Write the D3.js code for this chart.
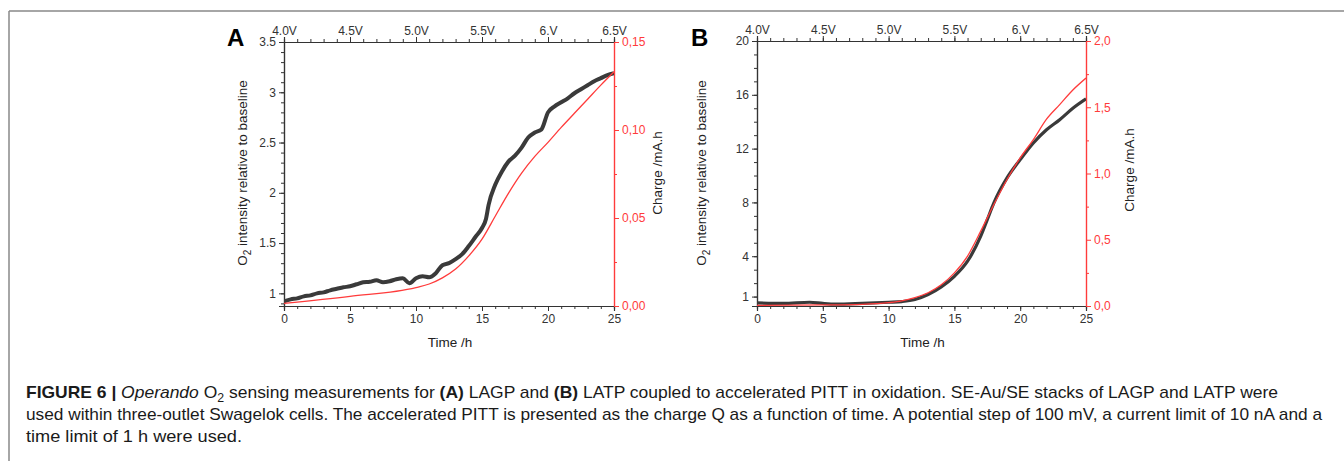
<!DOCTYPE html>
<html>
<head>
<meta charset="utf-8">
<script src="https://cdn.jsdelivr.net/npm/d3@7"></script>
<style>
  body { margin: 0; background: #fff; }
  svg { display: block; font-family: "Liberation Sans", Arial, sans-serif; }
</style>
</head>
<body>
<div id="canvas"></div>
<script>
// ---- data ----
const hourTicks = [0, 5, 10, 15, 20, 25];
const voltLabels = ['4.0V', '4.5V', '5.0V', '5.5V', '6.V', '6.5V'];

// panel A (LAGP)
const o2TimeA = [0, 0.5, 1, 1.5, 2, 2.5, 3, 3.5, 4, 4.5, 5, 5.5, 6, 6.5, 7, 7.5, 8, 8.5, 9, 9.5, 10, 10.5, 11, 11.5, 12, 12.5, 13, 13.5, 14, 14.5, 15, 15.3, 15.5, 16, 16.5, 17, 17.5, 18, 18.5, 19, 19.5, 20, 20.5, 21, 21.5, 22, 22.5, 23, 23.5, 24, 24.5, 25];
const o2A = [0.92, 0.94, 0.95, 0.97, 0.98, 1.0, 1.01, 1.03, 1.045, 1.06, 1.07, 1.09, 1.11, 1.115, 1.13, 1.11, 1.12, 1.14, 1.15, 1.10, 1.15, 1.17, 1.16, 1.2, 1.28, 1.3, 1.34, 1.39, 1.47, 1.56, 1.65, 1.74, 1.88, 2.08, 2.21, 2.31, 2.37, 2.45, 2.55, 2.6, 2.63, 2.8, 2.86, 2.9, 2.94, 2.99, 3.03, 3.07, 3.11, 3.14, 3.17, 3.19];
const qTimeA = [0, 5, 10, 11, 12, 13, 14, 15, 16, 17, 18, 19, 20, 21, 22, 23, 24, 25];
const qA = [0.0015, 0.0055, 0.0105, 0.0125, 0.016, 0.021, 0.0285, 0.038, 0.051, 0.064, 0.0755, 0.085, 0.093, 0.1015, 0.1095, 0.1175, 0.1255, 0.1331];
const leftTicksA = [1, 1.5, 2, 2.5, 3, 3.5];
const rightTicksA = [0, 0.05, 0.10, 0.15];

// panel B (LATP)
const o2TimeB = [0, 2, 4, 5, 6, 8, 10, 11, 12, 13, 14, 15, 16, 17, 17.5, 18, 19, 20, 21, 22, 23, 24, 25];
const o2B = [0.53, 0.49, 0.58, 0.49, 0.44, 0.5, 0.58, 0.63, 0.78, 1.15, 1.72, 2.51, 3.63, 5.49, 6.72, 7.96, 9.82, 11.18, 12.42, 13.4, 14.15, 15.0, 15.7];
const qTimeB = [0, 5, 8, 10, 11, 12, 13, 14, 15, 16, 17, 18, 19, 20, 21, 22, 23, 24, 25];
const qB = [0.005, 0.008, 0.013, 0.025, 0.038, 0.063, 0.10, 0.16, 0.25, 0.377, 0.565, 0.766, 0.955, 1.118, 1.256, 1.41, 1.52, 1.63, 1.72];
const leftTicksB = [1, 4, 8, 12, 16, 20];
const rightTicksB = [0, 0.5, 1.0, 1.5, 2.0];

const W = 1344, H = 461;
const RED = '#ff3b3b', INK = '#222', AXIS = '#333';

const svg = d3.select('#canvas').append('svg')
  .attr('width', W).attr('height', H);

// outer frame (top + left rule)
svg.append('line').attr('x1', 9).attr('x2', W).attr('y1', 11).attr('y2', 11)
  .style('stroke', '#888').style('stroke-width', 1.5);
svg.append('line').attr('x1', 9).attr('x2', 9).attr('y1', 11).attr('y2', H)
  .style('stroke', '#888').style('stroke-width', 1.5);

function panel(cfg){
  const x = d3.scaleLinear().domain([0, 25]).range([cfg.x0, cfg.x1]);
  const yL = d3.scaleLinear().domain(cfg.leftDomain).range([cfg.y1, cfg.y0]);
  const yR = d3.scaleLinear().domain(cfg.rightDomain).range([cfg.y1, cfg.y0]);
  const g = svg.append('g').attr('class', 'panel');

  function styleAxis(sel, color){
    sel.select('.domain').style('stroke', color).style('stroke-width', 1.2);
    sel.selectAll('.tick line').style('stroke', color).style('stroke-width', 1);
    sel.selectAll('.tick text').style('fill', color).style('font-size', '12px')
      .style('font-family', '"Liberation Sans", Arial, sans-serif');
  }

  // minor ticks first
  g.append('g').attr('transform', 'translate(0,' + cfg.y1 + ')')
    .call(d3.axisBottom(x).tickValues(d3.range(0, 26, 1)).tickSize(3).tickFormat(''))
    .call(s => styleAxis(s, AXIS));
  g.append('g').attr('transform', 'translate(0,' + cfg.y0 + ')')
    .call(d3.axisTop(x).tickValues(d3.range(0, 26, 1)).tickSize(3).tickFormat(''))
    .call(s => styleAxis(s, AXIS));
  g.append('g').attr('transform', 'translate(' + cfg.x0 + ',0)')
    .call(d3.axisLeft(yL).tickValues(cfg.leftMinor).tickSize(3).tickFormat(''))
    .call(s => styleAxis(s, AXIS));
  g.append('g').attr('transform', 'translate(' + cfg.x1 + ',0)')
    .call(d3.axisRight(yR).tickValues(cfg.rightMinor).tickSize(3).tickFormat(''))
    .call(s => styleAxis(s, RED));

  // major ticks
  g.append('g').attr('transform', 'translate(0,' + cfg.y1 + ')')
    .call(d3.axisBottom(x).tickValues(hourTicks).tickSize(5).tickPadding(3).tickFormat(d3.format('d')))
    .call(s => styleAxis(s, AXIS));
  g.append('g').attr('transform', 'translate(0,' + cfg.y0 + ')')
    .call(d3.axisTop(x).tickValues(hourTicks).tickSize(5).tickPadding(2).tickFormat((d, i) => voltLabels[i]))
    .call(s => styleAxis(s, AXIS));
  g.append('g').attr('transform', 'translate(' + cfg.x0 + ',0)')
    .call(d3.axisLeft(yL).tickValues(cfg.leftTicks).tickSize(5).tickPadding(3).tickFormat(d => String(d)))
    .call(s => styleAxis(s, AXIS));
  g.append('g').attr('transform', 'translate(' + cfg.x1 + ',0)')
    .call(d3.axisRight(yR).tickValues(cfg.rightTicks).tickSize(5).tickPadding(3)
      .tickFormat(d => d3.format(cfg.rightFmt)(d).replace('.', ',')))
    .call(s => styleAxis(s, RED));

  // curves
  const clip = 'clip' + cfg.name;
  svg.append('clipPath').attr('id', clip).append('rect')
    .attr('x', cfg.x0).attr('y', cfg.y0).attr('width', cfg.x1 - cfg.x0).attr('height', cfg.y1 - cfg.y0 + 2);

  const o2 = d3.zip(cfg.o2Time, cfg.o2);
  g.append('path').datum(o2)
    .attr('clip-path', 'url(#' + clip + ')')
    .attr('d', d3.line().x(d => x(d[0])).y(d => yL(d[1])).curve(d3.curveMonotoneX))
    .style('fill', 'none').style('stroke', '#3a3a3a').style('stroke-width', cfg.o2Width)
    .style('stroke-linejoin', 'round');

  const q = d3.zip(cfg.qTime, cfg.q);
  g.append('path').datum(q)
    .attr('clip-path', 'url(#' + clip + ')')
    .attr('d', d3.line().x(d => x(d[0])).y(d => yR(d[1])).curve(d3.curveMonotoneX))
    .style('fill', 'none').style('stroke', RED).style('stroke-width', 1.3);

  // titles
  g.append('text').attr('x', (cfg.x0 + cfg.x1) / 2 + 1).attr('y', 347)
    .attr('text-anchor', 'middle').style('font-size', '13.5px').style('fill', INK)
    .text('Time /h');

  const lt = g.append('text')
    .attr('transform', 'translate(' + cfg.leftTitleX + ',' + 173 + ') rotate(-90)')
    .attr('text-anchor', 'middle').style('font-size', '13.5px').style('fill', INK);
  lt.append('tspan').text('O');
  lt.append('tspan').attr('dy', 4).style('font-size', '10px').text('2');
  lt.append('tspan').attr('dy', -4).text(' intensity relative to baseline');

  g.append('text')
    .attr('transform', 'translate(' + cfg.rightTitleX + ',' + cfg.rightTitleY + ') rotate(-90)')
    .attr('text-anchor', 'middle').style('font-size', '13.5px').style('fill', INK)
    .text('Charge /mA.h');

  g.append('text').attr('x', cfg.labelX).attr('y', 46)
    .style('font-size', '24px').style('font-weight', 'bold').style('fill', '#000')
    .text(cfg.name);
}

panel({
  name: 'A', x0: 284, x1: 614, y0: 42, y1: 306,
  leftDomain: [0.874, 3.5], rightDomain: [0, 0.15],
  leftTicks: leftTicksA, leftMinor: d3.range(0.9, 3.51, 0.1),
  rightTicks: rightTicksA, rightMinor: [0.025, 0.075, 0.125], rightFmt: '.2f',
  o2Time: o2TimeA, o2: o2A, qTime: qTimeA, q: qA, o2Width: 4,
  leftTitleX: 247, rightTitleX: 662, rightTitleY: 173, labelX: 227
});

panel({
  name: 'B', x0: 757, x1: 1086, y0: 41, y1: 306,
  leftDomain: [0.3, 20], rightDomain: [0, 2],
  leftTicks: leftTicksB, leftMinor: d3.range(1, 20, 1),
  rightTicks: rightTicksB, rightMinor: [0.25, 0.75, 1.25, 1.75], rightFmt: '.1f',
  o2Time: o2TimeB, o2: o2B, qTime: qTimeB, q: qB, o2Width: 3.2,
  leftTitleX: 706, rightTitleX: 1134, rightTitleY: 170, labelX: 691
});

// caption
const cap = svg.append('g').style('font-size', '17px').style('fill', '#1a1a1a');
const l1 = cap.append('text').attr('x', 26).attr('y', 398)
  .attr('textLength', 1252).attr('lengthAdjust', 'spacingAndGlyphs');
l1.append('tspan').style('font-weight', 'bold').text('FIGURE 6 | ');
l1.append('tspan').style('font-style', 'italic').text('Operando');
l1.append('tspan').text(' O');
l1.append('tspan').attr('dy', 4).style('font-size', '12px').text('2');
l1.append('tspan').attr('dy', -4).text(' sensing measurements for ');
l1.append('tspan').style('font-weight', 'bold').text('(A)');
l1.append('tspan').text(' LAGP and ');
l1.append('tspan').style('font-weight', 'bold').text('(B)');
l1.append('tspan').text(' LATP coupled to accelerated PITT in oxidation. SE-Au/SE stacks of LAGP and LATP were');

cap.append('text').attr('x', 26).attr('y', 420)
  .attr('textLength', 1296).attr('lengthAdjust', 'spacingAndGlyphs')
  .text('used within three-outlet Swagelok cells. The accelerated PITT is presented as the charge Q as a function of time. A potential step of 100 mV, a current limit of 10 nA and a');

cap.append('text').attr('x', 26).attr('y', 442)
  .attr('textLength', 216).attr('lengthAdjust', 'spacingAndGlyphs')
  .text('time limit of 1 h were used.');
</script>
</body>
</html>
